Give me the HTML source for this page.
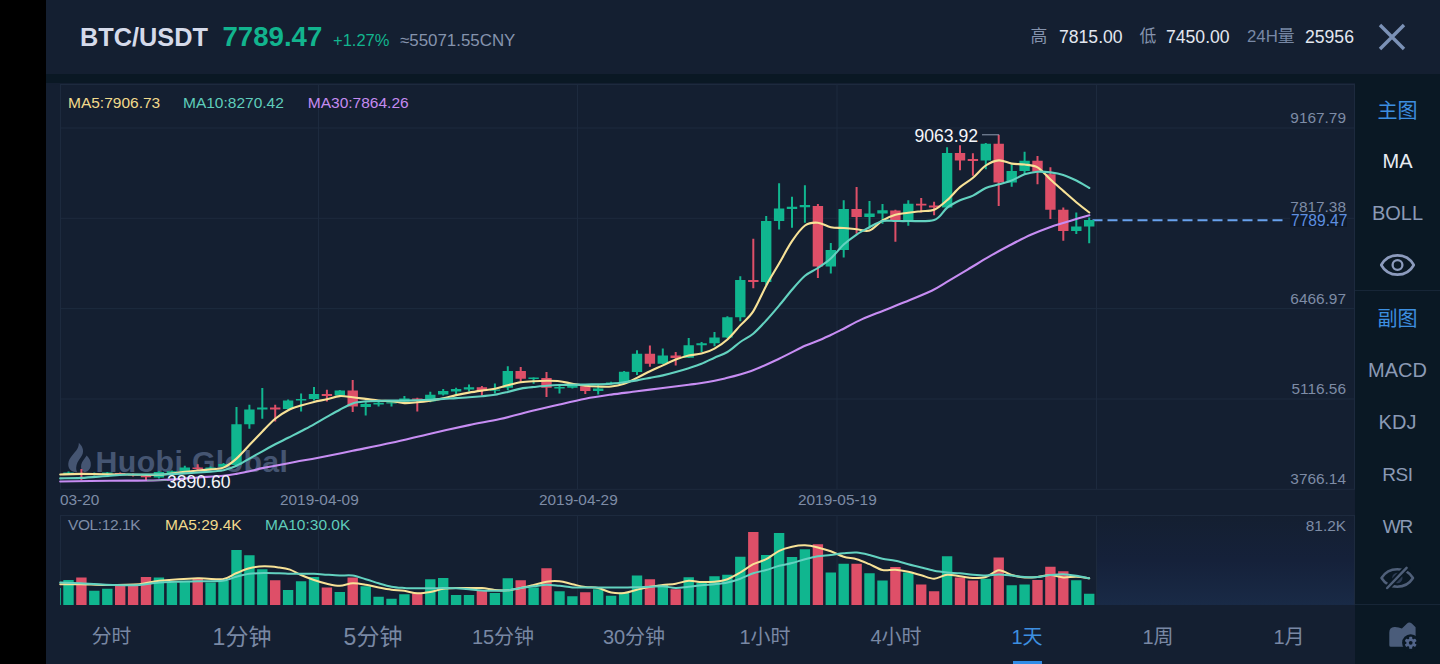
<!DOCTYPE html>
<html lang="zh"><head><meta charset="utf-8"><title>BTC/USDT</title>
<style>
*{margin:0;padding:0;box-sizing:border-box}
html,body{width:1440px;height:664px;overflow:hidden;background:#000}
body{position:relative;font-family:"Liberation Sans","Noto Sans CJK SC",sans-serif;color:#cfd6e6}
.a{position:absolute;white-space:nowrap;line-height:1}
#main{position:absolute;left:46px;top:0;width:1394px;height:664px;background:#141f31}
#band{position:absolute;left:46px;top:74px;width:1394px;height:8.8px;background:#0a1824}
#side{position:absolute;left:1355px;top:82px;width:85px;height:582px;background:#0a1824}
#tabs{position:absolute;left:46px;top:607px;width:1309px;height:57px;background:#141f31}
svg{position:absolute;left:0;top:0}
.t15{font-size:15.5px}
.ax{font-size:15.4px;color:#7e8ca6}
.sd{font-size:20px;color:#8b9ab5;text-align:center;width:85px;left:1355px}
.tb{color:#7988a4;text-align:center;width:130px}
</style></head><body>
<div id="main"></div><div class="a" style="left:1097px;top:516px;width:258px;height:88.7px;background:linear-gradient(#141f31 0%,#15213a 50%,#192a46 100%)"></div><div id="band"></div><div id="side"></div><div id="tabs"></div>
<svg width="1440" height="664" viewBox="0 0 1440 664">
<g stroke="#1d2a3e" stroke-width="1" fill="none">
<path d="M60 84.5H1355M60 128H1355M60 218.3H1355M60 308.6H1355M60 399H1355M60 489.3H1355M60 515.5H1355"/>
<path d="M60.5 84.5V489M318.5 84.5V489M577.5 84.5V489M837 84.5V489M1096.5 84.5V489M1354.5 84.5V489M1354.5 515V605M60.5 515V605M318.5 515V605M577.5 515V605M837 515V605M1096.5 515V605"/>
</g>
<g id="wm" fill="#455572"><path d="M78.8 442.8C83.5 447 84.5 452.5 81 457C78.2 460.5 76.3 464 76.2 467.5C76.1 469.5 76.6 471 77.3 472.2C71.5 472.5 67.8 468.5 68.3 463.5C68.9 457.5 74.5 453.5 77.2 449C78.4 447 78.9 445 78.8 442.8Z"/><path d="M86.7 455.6C89.5 458.5 91.2 461.5 90.8 465.2C90.4 469 87.8 471.8 84.5 472.3C81.8 471 80.5 468.2 81.2 464.8C81.9 461.5 84.8 458.8 86.7 455.6Z"/><text x="95.6" y="472.2" font-family="Liberation Sans,sans-serif" font-size="30.3" font-weight="bold" letter-spacing="0.35">Huobi Global</text></g>
<path d="M1092.5 220.2H1283" stroke="#68a2ee" stroke-width="2.1" stroke-dasharray="10 5" fill="none"/>
<path d="M63.3 472.5h10.4v1.5h-10.4zM89.1 473.5h10.4v1.3h-10.4zM102.1 472.5h10.4v1.3h-10.4zM153.7 472.1h10.4v5.4h-10.4zM166.7 471.2h10.4v3.3h-10.4zM179.6 467.6h10.4v4h-10.4zM205.4 467.6h10.4v1.4h-10.4zM218.3 464h10.4v2.7h-10.4zM231.3 424.2h10.4v40.7h-10.4zM244.2 409.4h10.4v14.8h-10.4zM257.1 407.6h10.4v1.8h-10.4zM282.9 400.6h10.4v8.3h-10.4zM295.9 398.9h10.4v1.7h-10.4zM308.8 394h10.4v4.9h-10.4zM334.6 390.6h10.4v5h-10.4zM360.5 403.9h10.4v3h-10.4zM373.4 402.7h10.4v1.7h-10.4zM386.3 402.2h10.4v1.3h-10.4zM399.2 398.4h10.4v3h-10.4zM425.1 394.8h10.4v6.6h-10.4zM438 391.1h10.4v3.4h-10.4zM450.9 389h10.4v2.5h-10.4zM463.8 387.3h10.4v2.2h-10.4zM489.7 389.5h10.4v1.3h-10.4zM502.6 370.9h10.4v16.9h-10.4zM528.4 377.4h10.4v1.6h-10.4zM554.3 387h10.4v1.6h-10.4zM567.2 385.3h10.4v2.5h-10.4zM593 388.6h10.4v2.5h-10.4zM605.9 382.5h10.4v1.5h-10.4zM618.9 371.7h10.4v11.1h-10.4zM631.8 353.8h10.4v18.3h-10.4zM657.6 355.5h10.4v8.3h-10.4zM683.5 345.2h10.4v12.6h-10.4zM696.4 343.3h10.4v1.9h-10.4zM709.3 337.5h10.4v5.8h-10.4zM722.2 317.2h10.4v20.3h-10.4zM735.1 279.9h10.4v37.3h-10.4zM761 221h10.4v60.9h-10.4zM773.9 208.6h10.4v12.4h-10.4zM786.8 206.8h10.4v2.1h-10.4zM799.7 205.1h10.4v2.2h-10.4zM825.6 250h10.4v16.6h-10.4zM838.5 208.9h10.4v41.1h-10.4zM864.3 213.4h10.4v3.5h-10.4zM877.3 210.3h10.4v3.1h-10.4zM903.1 203.7h10.4v18.2h-10.4zM941.9 152.9h10.4v54.5h-10.4zM980.6 143.8h10.4v16.6h-10.4zM1006.5 171.1h10.4v11.3h-10.4zM1019.4 160.8h10.4v10.3h-10.4zM1071.1 226.6h10.4v4.3h-10.4zM1084 220h10.4v6.6h-10.4z" fill="#10b68f"/>
<path d="M68.5 471.5V475M94.3 472.5V475.5M107.3 472V475M158.9 471.2V478.4M171.9 470.5V475M184.8 465.8V472.1M210.6 466.5V469.8M223.5 463V467.5M236.5 407V465M249.4 404.7V428.7M262.3 388V418.8M288.1 399.5V409.5M301.1 393.6V411.4M314 387V400.6M339.8 390V396M365.7 402.2V415.5M378.6 401.4V406.4M391.5 400.6V406.4M404.4 396.1V401.8M430.3 391.8V402.2M443.2 389V395.6M456.1 387.8V394M469 384.5V391.5M494.9 383.6V393.4M507.8 366.3V390.3M533.6 377.4V383.7M559.5 385.3V393.6M572.4 384.5V388.5M598.2 384.5V394.4M611.1 381.8V384.5M624.1 371V383M637 350.2V374.9M662.8 348.4V364M688.7 338.1V358M701.6 342V352M714.5 332.1V346.2M727.4 316.3V338M740.3 276.2V321.3M766.2 216V284.9M779.1 183.3V229.6M792 196.8V227.7M804.9 185.2V222.7M830.8 242.9V273.5M843.7 200.2V257.5M869.5 201V227.2M882.5 204V223.8M908.3 200.3V225.7M947.1 147.2V207.6M985.8 142.9V169.2M1011.7 164.5V186.7M1024.6 151.7V173.9M1076.3 212.5V234.1M1089.2 217.6V243.2" stroke="#10b68f" stroke-width="2" fill="none"/>
<path d="M76.2 473.5h10.4v1.3h-10.4zM115 473h10.4v1.3h-10.4zM127.9 474h10.4v1.5h-10.4zM140.8 476h10.4v1.3h-10.4zM192.5 467.6h10.4v1.4h-10.4zM270 407.6h10.4v1.8h-10.4zM321.7 394h10.4v2.1h-10.4zM347.5 390.6h10.4v15.8h-10.4zM412.1 398.4h10.4v1.4h-10.4zM476.7 387.2h10.4v3.6h-10.4zM515.5 370.9h10.4v7.8h-10.4zM541.3 377.9h10.4v9.9h-10.4zM580.1 386.2h10.4v4.9h-10.4zM644.7 353.8h10.4v10h-10.4zM670.5 355.5h10.4v2.5h-10.4zM748.1 279.9h10.4v2h-10.4zM812.7 206.1h10.4v60.5h-10.4zM851.4 208.9h10.4v8h-10.4zM890.2 210.6h10.4v10.4h-10.4zM916 203.7h10.4v1.8h-10.4zM928.9 205.5h10.4v1.9h-10.4zM954.8 152.9h10.4v7.5h-10.4zM967.7 158.9h10.4v2.2h-10.4zM993.5 143.8h10.4v38.6h-10.4zM1032.3 160.8h10.4v10.9h-10.4zM1045.2 174.3h10.4v35.4h-10.4zM1058.1 209.7h10.4v21.2h-10.4z" fill="#de4f68"/>
<path d="M81.4 469V480.2M120.2 472.5V475.5M133.1 473.5V476.5M146 474.5V480.7M197.7 464.3V470.8M275.2 404.7V421.5M326.9 389.8V401.4M352.7 379.9V411.9M417.3 397.8V411.4M481.9 386V395.7M520.7 367.1V382.5M546.5 372.1V396.9M585.3 386V394.1M649.9 345.6V366.8M675.7 351.9V365.4M753.3 238.8V288.2M817.9 204V277.9M856.6 186.9V233.8M895.4 209.7V241.7M921.2 198V212.5M934.1 201.8V215.3M960 145.3V170.2M972.9 153.2V175.8M998.7 134.8V205.9M1037.5 156V184.3M1050.4 167.3V219.1M1063.3 207.4V240.7" stroke="#de4f68" stroke-width="2" fill="none"/>
<path d="M60 588H60.8V605H60zM63.3 580H73.7V605H63.3zM89.1 590.8H99.5V605H89.1zM102.1 588.7H112.5V605H102.1zM153.7 577.5H164.1V605H153.7zM166.7 582.5H177.1V605H166.7zM179.6 580.8H190V605H179.6zM205.4 582.5H215.8V605H205.4zM218.3 580.8H228.7V605H218.3zM231.3 550H241.7V605H231.3zM244.2 555.3H254.6V605H244.2zM257.1 569.2H267.5V605H257.1zM282.9 590H293.3V605H282.9zM295.9 581.2H306.3V605H295.9zM308.8 577H319.2V605H308.8zM334.6 592H345V605H334.6zM360.5 586.3H370.9V605H360.5zM373.4 596.7H383.8V605H373.4zM386.3 598.7H396.7V605H386.3zM399.2 594.2H409.6V605H399.2zM425.1 579.2H435.5V605H425.1zM438 578H448.4V605H438zM450.9 595H461.3V605H450.9zM463.8 595H474.2V605H463.8zM489.7 593H500.1V605H489.7zM502.6 578.3H513V605H502.6zM528.4 587.5H538.8V605H528.4zM554.3 591.2H564.7V605H554.3zM567.2 596.3H577.6V605H567.2zM593 589.2H603.4V605H593zM605.9 595.8H616.3V605H605.9zM618.9 592.5H629.3V605H618.9zM631.8 575.5H642.2V605H631.8zM657.6 584.7H668V605H657.6zM683.5 577.2H693.9V605H683.5zM696.4 582.5H706.8V605H696.4zM709.3 576.3H719.7V605H709.3zM722.2 574.7H732.6V605H722.2zM735.1 556.7H745.5V605H735.1zM761 555H771.4V605H761zM773.9 533H784.3V605H773.9zM786.8 557H797.2V605H786.8zM799.7 549.2H810.1V605H799.7zM825.6 572.5H836V605H825.6zM838.5 563.7H848.9V605H838.5zM864.3 573.3H874.7V605H864.3zM877.3 580.5H887.7V605H877.3zM903.1 572.5H913.5V605H903.1zM941.9 556.2H952.3V605H941.9zM980.6 578.7H991V605H980.6zM1006.5 585.3H1016.9V605H1006.5zM1019.4 584.5H1029.8V605H1019.4zM1071.1 580.3H1081.5V605H1071.1zM1084 593.8H1094.4V605H1084z" fill="#10b68f"/>
<path d="M76.2 577.5H86.6V605H76.2zM115 585.8H125.4V605H115zM127.9 585.8H138.3V605H127.9zM140.8 577H151.2V605H140.8zM192.5 578.3H202.9V605H192.5zM270 580.3H280.4V605H270zM321.7 587.5H332.1V605H321.7zM347.5 577.5H357.9V605H347.5zM412.1 593.3H422.5V605H412.1zM476.7 590.8H487.1V605H476.7zM515.5 580.3H525.9V605H515.5zM541.3 568.3H551.7V605H541.3zM580.1 592.2H590.5V605H580.1zM644.7 579.2H655.1V605H644.7zM670.5 589.2H680.9V605H670.5zM748.1 532H758.5V605H748.1zM812.7 544.2H823.1V605H812.7zM851.4 563.7H861.8V605H851.4zM890.2 567H900.6V605H890.2zM916 584.5H926.4V605H916zM928.9 591.2H939.3V605H928.9zM954.8 577.5H965.2V605H954.8zM967.7 580.5H978.1V605H967.7zM993.5 557.5H1003.9V605H993.5zM1032.3 580H1042.7V605H1032.3zM1045.2 566.7H1055.6V605H1045.2zM1058.1 571.2H1068.5V605H1058.1z" fill="#de4f68"/>
<path d="M60.2 474.5C63.6 474.4 70.4 473.9 81.3 473.9C92.2 473.9 115.9 474.4 128.3 474.5C140.7 474.6 150.3 475.2 159 474.8C167.7 474.4 174.2 473 182.5 472.1C190.8 471.2 204.1 470.1 210.7 469.4C217.3 468.7 219.4 469.3 223.5 467.6C227.6 465.9 232.4 462.2 236.5 458.6C240.6 455 245.3 449.3 249.4 445C253.5 440.7 258.3 435.7 262.4 431.5C266.5 427.3 271.1 422.2 275.2 418.8C279.3 415.4 284.1 412.3 288.2 410.2C292.3 408.1 296.9 406.9 301 405.6C305.1 404.3 309.9 402.9 314 401.9C318.1 400.9 322.8 400.2 326.9 399.3C331 398.4 335.7 396.4 339.8 396.1C343.9 395.8 348.6 396.9 352.7 397.3C356.8 397.7 361.6 398.4 365.7 398.9C369.8 399.4 374.5 400.2 378.6 400.6C382.7 401 387.4 400.7 391.5 401.1C395.6 401.5 400.3 402.9 404.4 403.1C408.5 403.3 413.2 402.6 417.3 402.2C421.4 401.8 426.2 401.2 430.3 400.6C434.4 400 439.1 399.3 443.2 398.4C447.3 397.5 452 396 456.1 395.1C460.2 394.2 464.9 393.3 469 392.6C473.1 391.9 477.9 391.2 482 390.6C486.1 390 490.8 389.6 494.9 388.8C499 388 503.7 386.3 507.8 385.3C511.9 384.3 516.7 383 520.8 382.3C524.9 381.6 529.6 381.4 533.7 381.2C537.8 381 542.5 380.8 546.6 380.8C550.7 380.8 555.4 380.7 559.5 381.2C563.6 381.7 568.3 383 572.4 383.7C576.5 384.4 581.3 385.4 585.4 385.8C589.5 386.2 594.2 386.4 598.3 386.5C602.4 386.6 607.1 386.9 611.2 386.5C615.3 386.1 620 385.1 624.1 383.7C628.2 382.3 632.9 379.9 637 377.9C641.1 375.9 645.9 373.2 650 371.2C654.1 369.2 658.8 367.3 662.9 365.4C667 363.5 671.7 361.2 675.8 359.6C679.9 358 684.6 356.6 688.7 355.6C692.8 354.6 697.4 354.7 701.5 353.6C705.6 352.5 710.4 350.9 714.5 348.6C718.6 346.3 723.3 343.2 727.4 339.5C731.5 335.8 736.2 329.9 740.3 325.4C744.4 320.9 749.1 317.8 753.2 311.4C757.3 305 762.1 293.4 766.2 285.7C770.3 278 775 270.6 779.1 263.5C783.2 256.4 787.9 247.3 792 241.2C796.1 235.1 800.9 228.5 805 225.5C809.1 222.5 813.8 222.4 817.9 222.7C822 223 826.7 226.4 830.8 227.2C834.9 228 839.6 227.7 843.7 228C847.8 228.3 852.5 228.9 856.6 229.3C860.7 229.7 865.4 231.9 869.5 230.5C873.6 229.1 878.4 223 882.5 220.5C886.6 218 891.3 215.9 895.4 214.7C899.5 213.5 904.2 213.4 908.3 212.8C912.4 212.2 916.9 211.7 921 211.2C925.1 210.7 930 211.4 934.2 209.7C938.4 208 942.9 203.9 947 200.3C951.1 196.7 955.8 190.7 960 187.1C964.2 183.5 968.9 181.2 973 177.7C977.1 174.2 981.7 168.3 985.8 165.5C989.9 162.7 994.7 160.7 998.8 160.4C1002.9 160.1 1007.6 162.9 1011.7 163.6C1015.8 164.3 1020.5 163.9 1024.6 164.5C1028.7 165.1 1033.4 164.9 1037.5 167.3C1041.6 169.7 1046.4 175.8 1050.5 179.6C1054.6 183.4 1059.2 187.3 1063.3 190.9C1067.4 194.5 1072.1 198.7 1076.3 202.2C1080.5 205.7 1087.2 210.9 1089.3 212.5" stroke="#f8e297" stroke-width="2.1" fill="none" stroke-linejoin="round" stroke-linecap="round"/>
<path d="M60.2 478.4C63.6 478.3 73.3 478.3 81.3 477.9C89.3 477.5 102.5 476.2 110 475.7C117.5 475.2 120.5 474.7 128.3 474.5C136.1 474.3 149.9 474.7 159 474.5C168.1 474.3 176.6 473.9 184.9 473.4C193.2 472.9 204.5 472.1 210.7 471.6C216.9 471.1 219.4 471.2 223.5 470.3C227.6 469.4 232.4 467.7 236.5 465.8C240.6 463.9 245.3 460.9 249.4 458.6C253.5 456.3 258.3 453.6 262.4 451.3C266.5 449 271.1 446.5 275.2 444.3C279.3 442.1 284.1 439.9 288.2 437.8C292.3 435.7 296.9 433.5 301 431.3C305.1 429.1 309.9 426.6 314 424.3C318.1 422 322.8 419.2 326.9 416.9C331 414.6 335.7 411.9 339.8 409.7C343.9 407.5 348.6 404.7 352.7 403.4C356.8 402.1 361.6 401.8 365.7 401.4C369.8 401 374.5 401 378.6 400.9C382.7 400.8 387.4 400.6 391.5 400.6C395.6 400.6 400.3 400.6 404.4 400.6C408.5 400.6 413.2 400.4 417.3 400.3C421.4 400.2 426.2 400 430.3 399.8C434.4 399.6 439.1 399.2 443.2 398.9C447.3 398.6 452 398.4 456.1 398.1C460.2 397.8 464.9 397.6 469 397.3C473.1 397 477.9 396.6 482 396.2C486.1 395.8 490.8 395.5 494.9 394.8C499 394.1 503.7 392.9 507.8 391.9C511.9 390.9 516.7 389.4 520.8 388.6C524.9 387.8 529.6 387.4 533.7 387C537.8 386.6 542.5 386.1 546.6 385.8C550.7 385.5 555.4 385.2 559.5 385C563.6 384.8 568.3 384.9 572.4 384.8C576.5 384.7 581.3 384.6 585.4 384.5C589.5 384.4 594.2 384.3 598.3 384.2C602.4 384.1 607.1 384 611.2 383.7C615.3 383.4 620 382.8 624.1 382.3C628.2 381.8 632.9 381.1 637 380.4C641.1 379.7 645.9 378.7 650 377.9C654.1 377.1 658.8 376.3 662.9 375.4C667 374.5 671.7 373.3 675.8 372.1C679.9 370.9 684.6 369.5 688.7 368.2C692.8 366.9 697.4 365.5 701.5 363.8C705.6 362.1 710.4 359.6 714.5 357.7C718.6 355.8 723.3 354.5 727.4 352C731.5 349.5 736.2 344.9 740.3 342C744.4 339.1 749.1 337.1 753.2 333.7C757.3 330.3 762.1 325 766.2 320.5C770.3 316 775 310.5 779.1 305.6C783.2 300.7 787.9 294.6 792 289.8C796.1 285 800.9 279.3 805 275.8C809.1 272.3 813.8 270.8 817.9 268C822 265.2 826.7 262.2 830.8 258.5C834.9 254.8 839.6 248.4 843.7 244.6C847.8 240.8 852.5 237.4 856.6 234.6C860.7 231.8 865.4 229.4 869.5 227.2C873.6 225 878.4 222 882.5 221C886.6 220 891.3 221 895.4 221C899.5 221 902.1 221.2 908.3 221C914.5 220.8 928 222.1 934.2 220C940.4 217.9 942.9 211 947 207.8C951.1 204.6 955.8 202.3 960 200.3C964.2 198.3 968.9 197.6 973 195.6C977.1 193.6 981.7 189.8 985.8 188C989.9 186.2 994.7 185.5 998.8 184.3C1002.9 183.1 1007.6 182.1 1011.7 180.5C1015.8 178.9 1020.5 175.7 1024.6 174.3C1028.7 172.9 1033.4 172 1037.5 171.7C1041.6 171.4 1046.4 171.9 1050.5 172.4C1054.6 172.9 1059.2 173.6 1063.3 174.9C1067.4 176.2 1072.1 178.4 1076.3 180.5C1080.5 182.6 1087.2 186.8 1089.3 188" stroke="#63d2c0" stroke-width="2.1" fill="none" stroke-linejoin="round" stroke-linecap="round"/>
<path d="M60.2 481.5C68.2 481.4 94.2 481 110 480.8C125.8 480.6 145 480.7 159 480.2C173 479.7 187.4 478.2 197.7 477.5C208 476.8 217.3 476.3 223.5 475.7C229.7 475.1 232.4 474.6 236.5 473.9C240.6 473.2 245.3 472.1 249.4 471.2C253.5 470.3 258.3 469 262.4 468.1C266.5 467.2 269.8 466.8 275.2 465.8C280.6 464.8 289.1 463.1 296 461.8C302.9 460.5 309.3 459.5 318.4 457.7C327.5 455.9 341 453.2 352.7 450.8C364.4 448.4 379.1 445.5 391.5 442.8C403.9 440.1 417.9 436.5 430.3 433.7C442.7 430.9 457.8 427.5 469 425.1C480.2 422.7 489.5 421.4 500 419C510.5 416.6 525.2 412.6 534.7 410.3C544.2 408 551.4 406.4 559.5 404.5C567.6 402.6 577.1 400.3 585.4 398.7C593.7 397.1 602.9 395.8 611.2 394.6C619.5 393.4 628.7 392.4 637 391.3C645.3 390.2 654.6 389.1 662.9 388C671.2 386.9 682.8 385.5 688.7 384.7C694.6 383.9 694.2 384.3 700 383.3C705.8 382.3 716.8 380.4 725 378.4C733.2 376.4 742.5 374.2 751.2 371C759.9 367.8 770.5 362.7 779.1 358.7C787.7 354.7 798.8 348.7 805 345.8C811.2 342.9 813.8 342.5 817.9 340.8C822 339.1 827.1 336.7 830.8 335C834.5 333.3 836.1 332.4 841.1 329.9C846.1 327.4 855.4 322.2 862.2 319.1C869 316 876.6 313.4 883.3 310.7C890 308 896.6 305.5 904.3 302.3C912 299.1 924.9 293.9 931.7 290.7C938.5 287.5 940.8 285.6 946.5 282.2C952.2 278.8 960.8 273.6 967.6 269.6C974.4 265.6 981.9 260.8 988.7 256.9C995.5 253 1003.1 248.8 1009.8 245.3C1016.5 241.8 1024.1 237.8 1030.8 234.8C1037.5 231.8 1045.1 228.8 1051.9 226.4C1058.7 224 1067 221.8 1073 220C1079 218.2 1086.8 216 1089.4 215.2" stroke="#c78df3" stroke-width="2.1" fill="none" stroke-linejoin="round" stroke-linecap="round"/>
<path d="M60.2 584.2C63.5 584.2 73.7 584.1 81 584.2C88.3 584.3 96.7 585 106 585C115.3 585 130.8 584.9 139.3 584.2C147.8 583.5 150 581.7 159.3 580.8C168.6 579.9 187.6 578.6 197.7 578.3C207.8 578 216.6 580 222.7 579.2C228.8 578.4 231.7 575 236 573.3C240.3 571.6 244.8 569.4 249.3 568.3C253.8 567.2 259.5 566.4 264.3 566.3C269.1 566.2 275.2 567 279.3 567.5C283.4 568 286.5 568.4 290 569.6C293.5 570.8 297.2 573.3 301 575C304.8 576.7 309.9 578.6 314 580C318.1 581.4 322.7 582.8 326.8 583.7C330.9 584.6 335.7 585.9 339.8 585.8C343.9 585.7 348.6 583.5 352.7 583.3C356.8 583.1 361.5 584 365.7 584.7C369.9 585.4 374.6 586.7 378.7 587.5C382.8 588.3 387.4 589.2 391.5 589.7C395.6 590.2 400.2 590.2 404.3 590.8C408.4 591.4 413.1 593.1 417.3 593.3C421.5 593.5 426.2 592.7 430.3 592C434.4 591.3 439.1 589.4 443.2 588.8C447.3 588.2 452.1 588.1 456.2 588C460.3 587.9 464.9 588 469 588C473.1 588 477.9 587.7 482 588C486.1 588.3 490.7 589.6 494.8 590C498.9 590.4 503.7 590.6 507.8 590.3C511.9 590 516.6 588.8 520.7 588C524.8 587.2 529.6 586 533.7 585C537.8 584 542.4 582.3 546.5 581.7C550.6 581.1 555.4 580.9 559.5 581.3C563.6 581.7 568.2 583.3 572.3 584.2C576.4 585.1 581.1 586.4 585.3 587C589.5 587.6 594.2 587.1 598.3 588C602.4 588.9 607.1 591.7 611.2 592.5C615.3 593.3 620.1 593.4 624.2 593C628.3 592.6 632.9 590.7 637 589.7C641.1 588.7 645.9 587.5 650 586.7C654.1 585.9 658.7 585.5 662.8 585C666.9 584.5 671.7 584.4 675.8 583.7C679.9 583 684.6 581.1 688.7 580.8C692.8 580.5 697.6 581.9 701.7 582C705.8 582.1 710.4 582.1 714.5 581.7C718.6 581.3 723.4 580.7 727.5 579.2C731.6 577.7 736.2 574.9 740.3 572.5C744.4 570.1 749.2 566.3 753.3 564.2C757.4 562.1 762.1 561.3 766.2 559.2C770.3 557.1 775.1 552.8 779.2 550.8C783.3 548.8 787.9 547.6 792 546.7C796.1 545.8 800.9 545.2 805 545.3C809.1 545.4 813.7 546.5 817.8 547.5C821.9 548.5 826.7 549.8 830.8 551.3C834.9 552.8 839.6 555.4 843.7 556.7C847.8 558 852.6 558 856.7 559.2C860.8 560.4 865.4 562.5 869.5 564.2C873.6 565.9 878.4 569.1 882.5 570C886.6 570.9 891.2 569.4 895.3 569.7C899.4 570 904.1 570.8 908.3 571.7C912.5 572.6 917.2 574.2 921.3 575.3C925.4 576.4 930.1 578.8 934.2 578.7C938.3 578.6 943.1 575.1 947.2 574.7C951.3 574.3 955.9 575.8 960 576.3C964.1 576.8 968.9 577.9 973 578C977.1 578.1 981.7 578.2 985.8 577C989.9 575.8 994.7 570.6 998.8 570.3C1002.9 570 1007.6 573.8 1011.7 575C1015.8 576.2 1020.6 577.2 1024.7 577.5C1028.8 577.8 1033.4 577.4 1037.5 577C1041.6 576.6 1046.4 574.9 1050.5 575C1054.6 575.1 1059.2 577.2 1063.3 577.5C1067.4 577.8 1072.2 576.6 1076.3 576.7C1080.4 576.8 1087.1 578 1089.2 578.3" stroke="#f8e297" stroke-width="2" fill="none" stroke-linejoin="round" stroke-linecap="round"/>
<path d="M60.2 582.5C63.5 582.6 73.7 582.9 81 583.3C88.3 583.7 96.7 584.4 106 584.7C115.3 585 130.8 585.4 139.3 585C147.8 584.6 150 583.1 159.3 582.5C168.6 581.9 187.6 581.6 197.7 581.3C207.8 581 216.6 581.5 222.7 580.8C228.8 580.1 231.7 577.8 236 576.7C240.3 575.6 244.8 574.4 249.3 573.8C253.8 573.2 259.5 573.1 264.3 573C269.1 572.9 275.2 573.2 279.3 573.3C283.4 573.4 286.5 573.7 290 573.8C293.5 573.9 297.2 573.8 301 573.8C304.8 573.8 309.9 573.7 314 573.8C318.1 573.9 322.7 574.4 326.8 574.7C330.9 575 335.7 575.4 339.8 575.5C343.9 575.6 348.6 574.9 352.7 575.5C356.8 576.1 361.5 578 365.7 579.2C369.9 580.4 374.6 582.1 378.7 583.3C382.8 584.5 387.4 585.9 391.5 586.7C395.6 587.5 400.2 587.7 404.3 588C408.4 588.3 413.1 588.3 417.3 588.3C421.5 588.3 426.2 588.3 430.3 588.3C434.4 588.3 439.1 588 443.2 588C447.3 588 452.1 588.1 456.2 588.3C460.3 588.5 464.9 588.8 469 589.2C473.1 589.6 477.9 590.2 482 590.5C486.1 590.8 490.7 590.8 494.8 590.8C498.9 590.8 503.7 590.7 507.8 590.3C511.9 589.9 516.6 588.6 520.7 588C524.8 587.4 529.6 586.8 533.7 586.3C537.8 585.8 542.4 584.8 546.5 584.7C550.6 584.6 555.4 585.4 559.5 585.8C563.6 586.2 568.2 587.2 572.3 587.5C576.4 587.8 581.1 587.5 585.3 587.5C589.5 587.5 594.2 587.5 598.3 587.5C602.4 587.5 607.1 587.5 611.2 587.5C615.3 587.5 620.1 587.5 624.2 587.5C628.3 587.5 632.9 587.3 637 587.2C641.1 587.1 645.9 586.8 650 586.7C654.1 586.6 658.7 586.1 662.8 586.3C666.9 586.5 671.7 587.9 675.8 588C679.9 588.1 684.6 587.1 688.7 586.7C692.8 586.3 697.6 585.7 701.7 585.3C705.8 584.9 710.4 584.6 714.5 584.2C718.6 583.8 723.4 583.4 727.5 582.5C731.6 581.6 736.2 580.2 740.3 578.7C744.4 577.2 749.2 574.7 753.3 573.3C757.4 571.9 762.1 571.2 766.2 570C770.3 568.8 775.1 566.9 779.2 565.8C783.3 564.7 787.9 564.1 792 563C796.1 561.9 800.9 560.3 805 559.2C809.1 558.1 813.7 557 817.8 556.3C821.9 555.6 826.7 555.5 830.8 555C834.9 554.5 839.6 553.7 843.7 553.3C847.8 552.9 852.6 552.2 856.7 552.5C860.8 552.8 865.4 554 869.5 555C873.6 556 878.4 557.9 882.5 558.8C886.6 559.7 891.2 559.9 895.3 560.8C899.4 561.7 904.1 563.1 908.3 564.2C912.5 565.3 917.2 566.4 921.3 567.5C925.4 568.6 930.1 570 934.2 570.8C938.3 571.6 943.1 572.1 947.2 572.5C951.3 572.9 955.9 572.9 960 573.3C964.1 573.7 968.9 574.3 973 574.7C977.1 575.1 981.7 575.5 985.8 575.5C989.9 575.5 994.7 574.5 998.8 574.5C1002.9 574.5 1007.6 575.1 1011.7 575.5C1015.8 575.9 1020.6 576.8 1024.7 577C1028.8 577.2 1033.4 577.3 1037.5 577C1041.6 576.7 1046.4 575.4 1050.5 575C1054.6 574.6 1059.2 574.1 1063.3 574.2C1067.4 574.3 1072.2 575.1 1076.3 575.8C1080.4 576.5 1087.1 577.9 1089.2 578.3" stroke="#63d2c0" stroke-width="2" fill="none" stroke-linejoin="round" stroke-linecap="round"/>
<path d="M982 134.8H999" stroke="#8e9bb0" stroke-width="1" fill="none"/>
<path d="M147 480.5H167" stroke="#8e9bb0" stroke-width="1" fill="none"/>
</svg>
<div class="a" style="left:80px;top:25px;font-size:25.3px;font-weight:bold;color:#d5daea">BTC/USDT</div>
<div class="a" style="left:222.5px;top:23px;font-size:27.6px;font-weight:bold;color:#12b48e">7789.47</div>
<div class="a" style="left:333px;top:31.8px;font-size:16.5px;color:#12b48e">+1.27%</div>
<div class="a" style="left:400px;top:32.5px;font-size:16.9px;color:#8593ad">≈55071.55CNY</div>
<div class="a" style="left:1030.5px;top:28.5px;font-size:16.8px;color:#8593ad">高</div>
<div class="a" style="left:1059px;top:28.5px;font-size:17.6px;color:#e3e7f0">7815.00</div>
<div class="a" style="left:1139.5px;top:28.5px;font-size:16.8px;color:#8593ad">低</div>
<div class="a" style="left:1166px;top:28.5px;font-size:17.6px;color:#e3e7f0">7450.00</div>
<div class="a" style="left:1247px;top:28.5px;font-size:16.8px;color:#7888a5">24H量</div>
<div class="a" style="left:1305px;top:28.5px;font-size:17.6px;color:#e3e7f0">25956</div>
<svg style="left:1378px;top:23.2px" width="28" height="28" viewBox="0 0 28 28"><path d="M2 2L26 26M26 2L2 26" stroke="#7b91b6" stroke-width="3.4" fill="none"/></svg>

<div class="a t15" style="left:68px;top:94.6px;color:#f2da8c">MA5:7906.73</div>
<div class="a t15" style="left:183px;top:94.6px;color:#5fcdbb">MA10:8270.42</div>
<div class="a t15" style="left:307.8px;top:94.6px;color:#c58bf0">MA30:7864.26</div>
<div class="a t15" style="left:68px;top:517.3px;letter-spacing:-.4px;color:#7e8ca6">VOL:12.1K</div>
<div class="a t15" style="left:165px;top:517.3px;color:#f2da8c">MA5:29.4K</div>
<div class="a t15" style="left:265px;top:517.3px;color:#5fcdbb">MA10:30.0K</div>

<div class="a ax" style="right:94px;top:110px">9167.79</div>
<div class="a ax" style="right:94px;top:199.3px">7817.38</div>
<div class="a ax" style="right:94px;top:291px">6466.97</div>
<div class="a ax" style="right:94px;top:381px">5116.56</div>
<div class="a ax" style="right:94px;top:471px">3766.14</div>
<div class="a ax" style="right:94px;top:518px">81.2K</div>
<div class="a" style="left:1289.5px;top:213.5px;width:57.5px;height:13.5px;background:#0e1929"></div><div class="a" style="left:1291px;top:212.6px;font-size:15.6px;color:#5f8fe0">7789.47</div>
<div class="a ax" style="left:60px;top:492px">03-20</div>
<div class="a ax" style="left:280px;top:492px">2019-04-09</div>
<div class="a ax" style="left:539px;top:492px">2019-04-29</div>
<div class="a ax" style="left:798px;top:492px">2019-05-19</div>
<div class="a" style="left:914.5px;top:128px;font-size:17.6px;color:#f4f6fa">9063.92</div>
<div class="a" style="left:167px;top:473.5px;font-size:17.6px;color:#f4f6fa">3890.60</div>

<div class="a sd" style="top:100.5px;color:#3d8fe0">主图</div>
<div class="a sd" style="top:151px;color:#e8ecf3">MA</div>
<div class="a sd" style="top:203px">BOLL</div>
<div class="a sd" style="top:308.5px;color:#3d8fe0">副图</div>
<div class="a sd" style="top:360px">MACD</div>
<div class="a sd" style="top:412px">KDJ</div>
<div class="a sd" style="top:464.5px;font-size:19px;letter-spacing:-.4px">RSI</div>
<div class="a sd" style="top:516.5px;font-size:19px;letter-spacing:-1.2px">WR</div>

<div class="a tb" style="left:46.5px;top:626.6px;font-size:19.8px">分时</div>
<div class="a tb" style="left:177px;top:625.5px;font-size:23px">1分钟</div>
<div class="a tb" style="left:308px;top:625.5px;font-size:23px">5分钟</div>
<div class="a tb" style="left:438px;top:626.6px;font-size:20px">15分钟</div>
<div class="a tb" style="left:569px;top:626.6px;font-size:20px">30分钟</div>
<div class="a tb" style="left:700px;top:626.6px;font-size:20px">1小时</div>
<div class="a tb" style="left:831px;top:626.6px;font-size:20px">4小时</div>
<div class="a tb" style="left:962px;top:626.6px;font-size:20px;color:#3d8fe0">1天</div>
<div class="a tb" style="left:1093px;top:626.6px;font-size:20px">1周</div>
<div class="a tb" style="left:1224px;top:626.6px;font-size:20px">1月</div>
<div class="a" style="left:1012.5px;top:661px;width:29px;height:3px;background:#2f8be6"></div>

<svg width="1440" height="664" viewBox="0 0 1440 664">
<path d="M1355 290.5H1440M1355 604.5H1440" stroke="#172637" stroke-width="1.2" fill="none"/>
<g fill="none" stroke="#8c9bbd" stroke-width="2.6" stroke-linejoin="round">
<path d="M1381.2 265A18.6 18.6 0 0 1 1413.8 265A18.6 18.6 0 0 1 1381.2 265Z"/>
<circle cx="1397.5" cy="265" r="4.9" stroke-width="2.3"/>
</g>
<g fill="none" stroke="#4f5f79" stroke-width="2.5" stroke-linejoin="round" stroke-linecap="round">
<path d="M1381.5 578A18.6 18.6 0 0 1 1413 578A18.6 18.6 0 0 1 1381.5 578Z"/>
<circle cx="1397.3" cy="578" r="5.2" fill="#2d3c54" stroke="none"/>
<path d="M1408.2 566L1385.5 589.8" stroke="#0a1824" stroke-width="6" stroke-linecap="butt"/>
<path d="M1406.6 567.8L1387.2 588"/>
</g>
<path d="M1389.3 645.3V632.5Q1389.3 627.4 1394.3 627.1Q1398.3 626.9 1401.9 628.6L1406.8 623.7Q1409.2 621.4 1411.8 623.6L1415.6 627.2V646.8H1390.8Q1389.3 646.8 1389.3 645.3Z" fill="#4a5c7a"/>
<circle cx="1410.7" cy="642.8" r="8.6" fill="#0a1824"/>
<g transform="translate(1410.7 642.8)" fill="#52658a">
<circle r="4.3"/>
<g><rect x="-1.5" y="-6" width="3" height="12" rx=".6"/><rect x="-1.5" y="-6" width="3" height="12" rx=".6" transform="rotate(60)"/><rect x="-1.5" y="-6" width="3" height="12" rx=".6" transform="rotate(120)"/></g>
<circle r="1.9" fill="#0a1824"/>
</g>
</svg>
</body></html>
